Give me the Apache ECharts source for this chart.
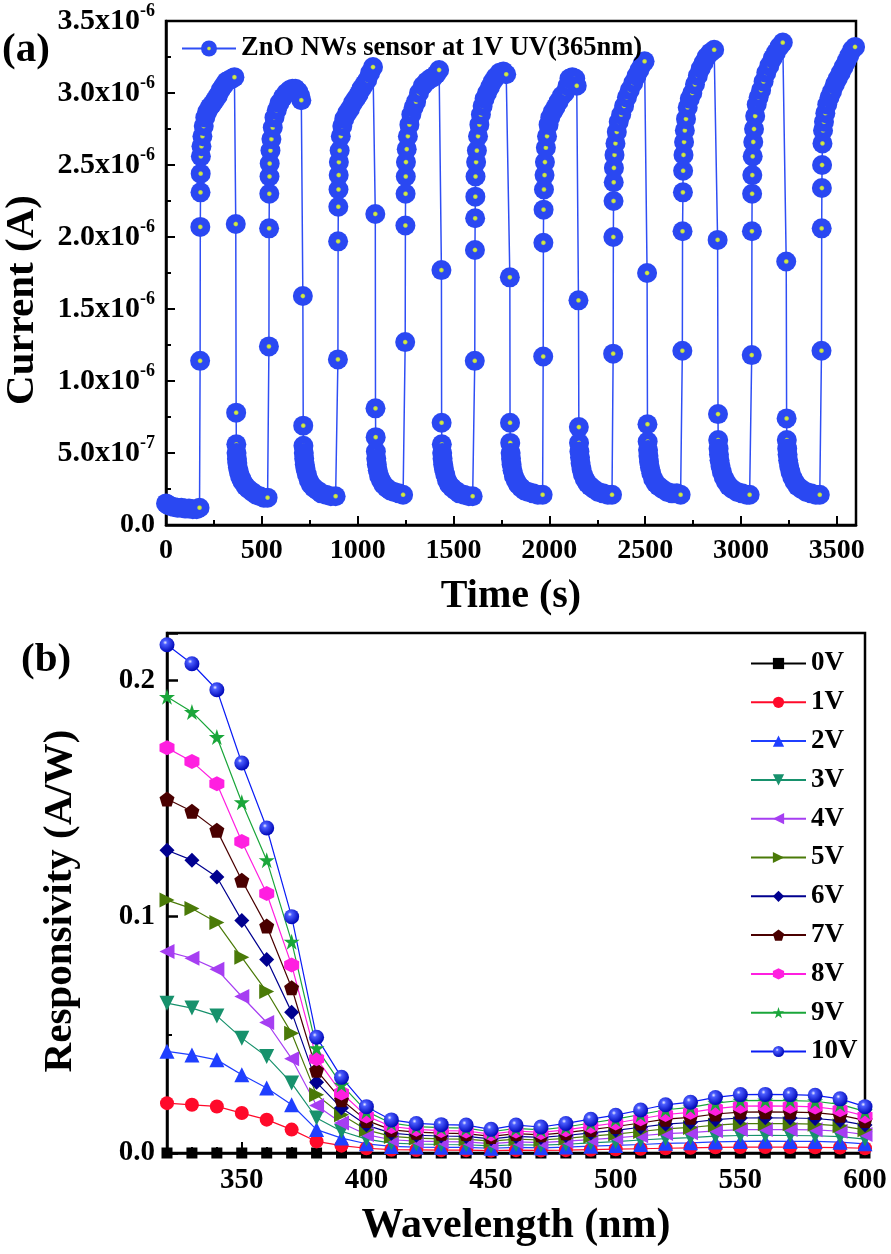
<!DOCTYPE html>
<html lang="en">
<head>
<meta charset="UTF-8">
<title>ZnO NWs UV sensor</title>
<script src="https://cdn.jsdelivr.net/npm/echarts@6/dist/echarts.min.js"></script>
<style>
  html, body { margin: 0; padding: 0; background: #fff; }
  #chart { width: 891px; height: 1254px; }
</style>
</head>
<body>
<div id="chart"></div>
<script>
// ---- (a) current vs time, current in units of 1e-6 A ----
var timeS = [
  0, 10, 25, 40, 60, 80, 100, 120, 140, 160, 175,
  178, 179, 180, 181, 182, 185, 190, 197, 205, 215, 228, 240, 255, 270, 285, 300, 315, 330, 345, 357,
  364, 366, 367, 368, 370, 372, 375, 380, 386, 393, 400, 415, 430, 450, 470, 490, 510, 530,
  537, 538, 539, 540, 541, 545, 550, 557, 566, 578, 592, 610, 627, 645, 660, 675, 690, 700, 706,
  714, 716, 717, 719, 721, 724, 728, 735, 745, 757, 770, 790, 810, 835, 860, 885,
  897, 898, 899, 900, 901, 902, 906, 912, 920, 930, 945, 960, 975, 990, 1005, 1020, 1035, 1050, 1065, 1080,
  1092, 1093, 1094, 1095, 1097, 1100, 1105, 1112, 1122, 1135, 1150, 1170, 1190, 1215, 1237,
  1248, 1249, 1250, 1251, 1252, 1256, 1262, 1270, 1280, 1292, 1305, 1320, 1340, 1360, 1380, 1395, 1410, 1425,
  1437, 1438, 1439, 1441, 1443, 1446, 1450, 1457, 1466, 1478, 1492, 1510, 1530, 1555, 1580, 1600,
  1611, 1612, 1613, 1614, 1615, 1618, 1622, 1628, 1635, 1643, 1652, 1662, 1675, 1690, 1705, 1720, 1740, 1760, 1775,
  1794, 1795, 1796, 1798, 1800, 1803, 1808, 1815, 1825, 1838, 1852, 1870, 1890, 1915, 1940, 1965,
  1968, 1969, 1970, 1972, 1975, 1977, 1982, 1988, 1996, 2005, 2018, 2032, 2048, 2065, 2080, 2095, 2105, 2120, 2135, 2143,
  2152, 2154, 2155, 2157, 2160, 2163, 2168, 2175, 2185, 2198, 2213, 2232, 2255, 2280, 2305, 2327,
  2333, 2334, 2335, 2336, 2337, 2340, 2345, 2352, 2362, 2375, 2390, 2405, 2420, 2438, 2455, 2470, 2485, 2497,
  2510, 2512, 2513, 2515, 2517, 2520, 2525, 2532, 2542, 2555, 2570, 2590, 2615, 2640, 2665, 2685,
  2694, 2695, 2697, 2698, 2700, 2703, 2707, 2713, 2722, 2733, 2746, 2760, 2775, 2790, 2805, 2820, 2840, 2860,
  2878, 2880, 2881, 2883, 2885, 2888, 2893, 2900, 2910, 2922, 2937, 2955, 2980, 3005, 3030, 3045,
  3056, 3057, 3058, 3059, 3061, 3064, 3068, 3074, 3082, 3092, 3105, 3118, 3132, 3148, 3165, 3182, 3200, 3218,
  3236, 3238, 3239, 3241, 3243, 3246, 3251, 3258, 3268, 3280, 3295, 3315, 3340, 3365, 3390, 3411,
  3420, 3421, 3422, 3423, 3425, 3428, 3433, 3440, 3450, 3462, 3475, 3490, 3505, 3520, 3535, 3550, 3565, 3580, 3595
];
var currentUA = [
  0.15, 0.14, 0.13, 0.125, 0.12, 0.12, 0.115, 0.115, 0.11, 0.11, 0.12,
  1.14, 2.07, 2.31, 2.44, 2.56, 2.63, 2.70, 2.77, 2.83, 2.87, 2.90, 2.92, 2.95, 2.98, 3.02, 3.05, 3.08, 3.09, 3.10, 3.11,
  2.09, 0.78, 0.56, 0.50, 0.46, 0.43, 0.40, 0.37, 0.34, 0.32, 0.30, 0.27, 0.25, 0.23, 0.21, 0.20, 0.19, 0.19,
  1.24, 2.06, 2.30, 2.42, 2.51, 2.60, 2.68, 2.76, 2.83, 2.88, 2.93, 2.97, 3.00, 3.02, 3.03, 3.03, 3.01, 2.98, 2.95,
  1.59, 0.69, 0.55, 0.50, 0.46, 0.42, 0.39, 0.35, 0.31, 0.28, 0.26, 0.24, 0.22, 0.21, 0.20, 0.20,
  1.15, 1.97, 2.21, 2.33, 2.43, 2.52, 2.60, 2.70, 2.77, 2.82, 2.86, 2.89, 2.93, 2.96, 2.99, 3.03, 3.06, 3.09, 3.14, 3.18,
  2.16, 0.81, 0.61, 0.51, 0.46, 0.42, 0.38, 0.34, 0.31, 0.28, 0.26, 0.24, 0.23, 0.22, 0.21,
  1.27, 2.08, 2.30, 2.42, 2.52, 2.61, 2.70, 2.78, 2.85, 2.90, 2.94, 3.00, 3.05, 3.08, 3.10, 3.11, 3.13, 3.16,
  1.77, 0.71, 0.56, 0.50, 0.46, 0.42, 0.39, 0.35, 0.31, 0.28, 0.26, 0.24, 0.22, 0.21, 0.20, 0.20,
  1.14, 1.91, 2.13, 2.28, 2.42, 2.52, 2.60, 2.70, 2.78, 2.85, 2.91, 2.96, 3.00, 3.04, 3.08, 3.11, 3.14, 3.15, 3.13,
  1.72, 0.71, 0.57, 0.50, 0.46, 0.42, 0.38, 0.34, 0.31, 0.28, 0.26, 0.24, 0.23, 0.22, 0.21, 0.21,
  1.17, 1.96, 2.19, 2.33, 2.43, 2.52, 2.62, 2.70, 2.78, 2.83, 2.87, 2.90, 2.94, 2.98, 3.00, 3.05, 3.10, 3.11, 3.10, 3.05,
  1.56, 0.68, 0.57, 0.51, 0.47, 0.43, 0.39, 0.35, 0.32, 0.29, 0.27, 0.25, 0.23, 0.22, 0.21, 0.21,
  1.19, 2.00, 2.25, 2.38, 2.48, 2.57, 2.65, 2.73, 2.80, 2.85, 2.91, 2.97, 3.02, 3.07, 3.12, 3.16, 3.20, 3.22,
  1.75, 0.70, 0.58, 0.52, 0.48, 0.44, 0.40, 0.36, 0.32, 0.29, 0.27, 0.25, 0.23, 0.22, 0.22, 0.21,
  1.21, 2.04, 2.31, 2.46, 2.57, 2.66, 2.74, 2.82, 2.90, 2.96, 3.00, 3.06, 3.12, 3.17, 3.21, 3.25, 3.28, 3.30,
  1.98, 0.77, 0.59, 0.53, 0.49, 0.45, 0.41, 0.37, 0.33, 0.30, 0.27, 0.25, 0.23, 0.22, 0.21, 0.21,
  1.18, 2.04, 2.30, 2.43, 2.56, 2.66, 2.75, 2.84, 2.92, 2.97, 3.02, 3.08, 3.14, 3.19, 3.24, 3.28, 3.32, 3.35,
  1.83, 0.74, 0.59, 0.53, 0.49, 0.45, 0.41, 0.37, 0.33, 0.30, 0.27, 0.25, 0.23, 0.22, 0.21, 0.21,
  1.21, 2.06, 2.34, 2.50, 2.65, 2.74, 2.80, 2.86, 2.92, 2.97, 3.01, 3.06, 3.10, 3.14, 3.18, 3.22, 3.26, 3.30, 3.32
];
var sensorName = 'ZnO NWs sensor at 1V UV(365nm)';

// ---- (b) responsivity vs wavelength ----
var wavelength = [320, 330, 340, 350, 360, 370, 380, 390, 400, 410, 420, 430, 440, 450, 460, 470, 480, 490, 500,
  510, 520, 530, 540, 550, 560, 570, 580, 590, 600];
var voltLabels = ['0V', '1V', '2V', '3V', '4V', '5V', '6V', '7V', '8V', '9V', '10V'];
var resp0V = [0, 0, 0, 0, 0, 0, 0, 0, 0, 0, 0, 0, 0, 0, 0, 0, 0, 0, 0, 0, 0, 0, 0, 0, 0, 0, 0, 0, 0];
var resp1V = [0.0211, 0.0204, 0.0197, 0.0169, 0.0141, 0.0099, 0.0049, 0.0031, 0.002, 0.0014, 0.0013, 0.0012, 0.0012,
  0.001, 0.0012, 0.0011, 0.0012, 0.0014, 0.0016, 0.0018, 0.002, 0.0022, 0.0024, 0.0025, 0.0025, 0.0025, 0.0024, 0.0023, 0.002];
var resp2V = [0.043, 0.0415, 0.0394, 0.0331, 0.0275, 0.0204, 0.0099, 0.0063, 0.0039, 0.0028, 0.0025, 0.0024, 0.0024,
  0.002, 0.0024, 0.0022, 0.0025, 0.0029, 0.0032, 0.0036, 0.0041, 0.0043, 0.0047, 0.0049, 0.005, 0.0049, 0.0049, 0.0046, 0.0039];
var resp3V = [0.0634, 0.0613, 0.058, 0.0486, 0.0408, 0.0296, 0.0148, 0.0092, 0.0059, 0.0042, 0.0038, 0.0036, 0.0035,
  0.003, 0.0035, 0.0033, 0.0037, 0.0043, 0.0048, 0.0055, 0.0061, 0.0065, 0.0071, 0.0074, 0.0075, 0.0074, 0.0073, 0.0069, 0.0059];
var resp4V = [0.0852, 0.0824, 0.0777, 0.0662, 0.0552, 0.0399, 0.0201, 0.0127, 0.0078, 0.0056, 0.005, 0.0048, 0.0047,
  0.004, 0.0047, 0.0044, 0.005, 0.0057, 0.0064, 0.0073, 0.0082, 0.0086, 0.0094, 0.0099, 0.0099, 0.0099, 0.0098, 0.0092, 0.0078];
var resp5V = [0.107, 0.1034, 0.0975, 0.0828, 0.0683, 0.0507, 0.0246, 0.0162, 0.0098, 0.007, 0.0063, 0.006, 0.0059,
  0.005, 0.0059, 0.0055, 0.0062, 0.0071, 0.008, 0.0091, 0.0102, 0.0108, 0.0118, 0.0124, 0.0124, 0.0124, 0.0122, 0.0115, 0.0098];
var resp6V = [0.1281, 0.1239, 0.1168, 0.0984, 0.0819, 0.0596, 0.0299, 0.019, 0.0118, 0.0084, 0.0075, 0.0072, 0.007,
  0.006, 0.007, 0.0066, 0.0074, 0.0085, 0.0096, 0.0109, 0.0122, 0.0129, 0.0141, 0.0148, 0.0149, 0.0148, 0.0146, 0.0137, 0.0118];
var resp7V = [0.1498, 0.1446, 0.1366, 0.1154, 0.096, 0.0699, 0.035, 0.0225, 0.0138, 0.0098, 0.0088, 0.0084, 0.0082,
  0.007, 0.0082, 0.0077, 0.0086, 0.0099, 0.0112, 0.0127, 0.0143, 0.0151, 0.0165, 0.0173, 0.0174, 0.0173, 0.0171, 0.016, 0.0138];
var resp8V = [0.1714, 0.1656, 0.1562, 0.1318, 0.1098, 0.0795, 0.0399, 0.0254, 0.0157, 0.0112, 0.01, 0.0095, 0.0093,
  0.008, 0.0093, 0.0087, 0.0098, 0.0113, 0.0127, 0.0145, 0.0163, 0.0172, 0.0188, 0.0198, 0.0199, 0.0198, 0.0195, 0.0183, 0.0157];
var resp9V = [0.193, 0.1866, 0.176, 0.1484, 0.1239, 0.0894, 0.0444, 0.0289, 0.0176, 0.0126, 0.0112, 0.0107, 0.0105,
  0.009, 0.0104, 0.0098, 0.011, 0.0127, 0.0143, 0.0163, 0.0183, 0.0193, 0.0211, 0.0222, 0.0223, 0.0222, 0.0219, 0.0206, 0.0176];
var resp10V = [0.215, 0.207, 0.196, 0.165, 0.1375, 0.100, 0.049, 0.032, 0.0196, 0.014, 0.0125, 0.012, 0.0118,
  0.010, 0.0118, 0.011, 0.0125, 0.0143, 0.016, 0.0182, 0.0204, 0.0215, 0.0235, 0.0247, 0.0248, 0.0247, 0.0244, 0.0229, 0.0196];

var FONT = 'Liberation Serif';
var pentagon = 'path://M50,0 L97.6,34.5 L79.4,90.5 L20.6,90.5 L2.4,34.5 Z';
var hexagon = 'path://M50,0 L93.3,25 L93.3,75 L50,100 L6.7,75 L6.7,25 Z';
var star = 'path://M50,0 L61.2,34.5 L97.6,34.5 L68.2,55.9 L79.4,90.5 L50,69.1 L20.6,90.5 L31.8,55.9 L2.4,34.5 L38.8,34.5 Z';

var respData = [resp0V, resp1V, resp2V, resp3V, resp4V, resp5V, resp6V, resp7V, resp8V, resp9V, resp10V];
var voltColors = ['#000000', '#ff0a2a', '#1f3fff', '#17916c', '#a63ef2', '#4a7a08', '#00008f', '#4a0000', '#ff1fe0', '#1aa63a', '#0a1cf5'];
var voltSymbols = ['rect', 'circle', 'triangle', 'triangle', 'triangle', 'triangle', 'diamond', pentagon, hexagon, star, 'circle'];
var voltRotate = [0, 0, 0, 180, 90, -90, 0, 0, 0, 0, 0];
var voltSizes = [11, 14, 15, 15, 15, 15, 15, 15, 15, 16, 15];

var chart = echarts.init(document.getElementById('chart'));

function axisStyle() {
  return {
    axisLine: { show: true, lineStyle: { color: '#000', width: 2.5 } },
    axisTick: { show: true, inside: true, length: 9, lineStyle: { color: '#000', width: 2 } },
    minorTick: { show: true, splitNumber: 2, length: 5, lineStyle: { color: '#000', width: 2 } },
    splitLine: { show: false },
    minorSplitLine: { show: false }
  };
}

function sciLabel(v) {
  if (Math.abs(v) < 1e-9) return '{z|0.0}';
  if (v < 1) return '{m|' + (v * 10).toFixed(1) + 'x10}{s|-7}';
  return '{m|' + v.toFixed(1) + 'x10}{s|-6}';
}

var labelBase = { color: '#000', fontFamily: FONT, fontWeight: 'bold', fontSize: 28 };
var nameBase = { color: '#000', fontFamily: FONT, fontWeight: 'bold', fontSize: 40 };

var topMarker = new echarts.graphic.RadialGradient(0.5, 0.5, 0.5, [
  { offset: 0, color: '#d8f048' },
  { offset: 0.16, color: '#c8e040' },
  { offset: 0.28, color: '#2a48f2' },
  { offset: 1, color: '#2a48f2' }
]);
var ballMarker = new echarts.graphic.RadialGradient(0.38, 0.35, 0.65, [
  { offset: 0, color: '#f0f0ff' },
  { offset: 0.22, color: '#4a5cff' },
  { offset: 1, color: '#0008b8' }
]);

var bottomSeries = voltLabels.map(function (name, i) {
  var pts = wavelength.map(function (w, k) { return [w, respData[i][k]]; });
  return {
    name: name,
    type: 'line',
    xAxisIndex: 1,
    yAxisIndex: 1,
    data: pts,
    symbol: voltSymbols[i],
    symbolRotate: voltRotate[i],
    symbolSize: voltSizes[i],
    showAllSymbol: true,
    lineStyle: { color: voltColors[i], width: 1.2 },
    itemStyle: { color: i === 10 ? ballMarker : voltColors[i], borderWidth: 0 },
    z: 2,
    animation: false
  };
});

var option = {
  animation: false,
  backgroundColor: '#fff',
  grid: [
    { left: 166, top: 21, width: 690, height: 504, show: true, borderColor: '#000', borderWidth: 2.5, outerBoundsMode: 'none' },
    { left: 167, top: 633, width: 698, height: 520, show: true, borderColor: '#000', borderWidth: 2.5, outerBoundsMode: 'none' }
  ],
  legend: [
    {
      data: [sensorName],
      left: 176, top: 30, z: 20,
      itemWidth: 54, itemHeight: 20,
      textStyle: { color: '#000', fontFamily: FONT, fontWeight: 'bold', fontSize: 26.5 }
    },
    {
      data: voltLabels,
      orient: 'vertical',
      left: 745, top: 645, z: 20,
      itemWidth: 55, itemHeight: 14, itemGap: 11.8,
      textStyle: { color: '#000', fontFamily: FONT, fontWeight: 'bold', fontSize: 27, lineHeight: 26 }
    }
  ],
  xAxis: [
    Object.assign(axisStyle(), {
      type: 'value', gridIndex: 0, min: 0, max: 3600, interval: 500,
      name: 'Time (s)', nameLocation: 'middle', nameGap: 52, nameTextStyle: nameBase, nameMoveOverlap: false,
      axisLabel: Object.assign({ margin: 12, formatter: function (v) { return v % 500 === 0 ? String(v) : ''; } }, labelBase)
    }),
    Object.assign(axisStyle(), {
      type: 'value', gridIndex: 1, min: 320, max: 600, interval: 10,
      minorTick: { show: false },
      axisTick: { show: true, inside: true, length: 6, lineStyle: { color: '#000', width: 2 } },
      name: 'Wavelength (nm)', nameLocation: 'middle', nameGap: 52,
      nameTextStyle: Object.assign({}, nameBase, { fontSize: 42 }), nameMoveOverlap: false,
      axisLabel: Object.assign({ margin: 13, formatter: function (v) { return v % 50 === 0 ? String(v) : ''; } }, labelBase, { fontSize: 29 })
    }),
    {
      type: 'value', gridIndex: 1, min: 320, max: 600, position: 'bottom',
      axisLine: { show: false }, axisLabel: { show: false }, splitLine: { show: false },
      axisTick: { show: true, inside: true, length: 11, customValues: [350, 400, 450, 500, 550, 600], lineStyle: { color: '#000', width: 2 } }
    }
  ],
  yAxis: [
    Object.assign(axisStyle(), {
      type: 'value', gridIndex: 0, min: 0, max: 3.5, interval: 0.5,
      axisLabel: {
        margin: 11,
        formatter: sciLabel,
        rich: {
          z: labelBase,
          m: { color: '#000', fontFamily: FONT, fontWeight: 'bold', fontSize: 30 },
          s: { color: '#000', fontFamily: FONT, fontWeight: 'bold', fontSize: 18, padding: [0, 0, 19, 0] }
        }
      }
    }),
    Object.assign(axisStyle(), {
      type: 'value', gridIndex: 1, min: 0, max: 0.22, interval: 0.1,
      axisTick: { show: true, inside: true, length: 11, lineStyle: { color: '#000', width: 2.5 } },
      axisLabel: Object.assign({
        margin: 12,
        formatter: function (v) {
          var r = Math.round(v * 10);
          return Math.abs(v * 10 - r) < 1e-6 ? (r / 10).toFixed(1) : '';
        }
      }, labelBase, { fontSize: 29 })
    })
  ],
  graphic: [
    { type: 'text', left: 2, top: 30, style: { text: '(a)', fontFamily: FONT, fontWeight: 'bold', fontSize: 41, fill: '#000' } },
    { type: 'text', left: 21, top: 640, style: { text: '(b)', fontFamily: FONT, fontWeight: 'bold', fontSize: 41, fill: '#000' } },
    {
      type: 'text', x: 22, y: 300, rotation: Math.PI / 2,
      style: { text: 'Current (A)', fontFamily: FONT, fontWeight: 'bold', fontSize: 41, fill: '#000', align: 'center', verticalAlign: 'middle' }
    },
    {
      type: 'text', x: 60, y: 901, rotation: Math.PI / 2,
      style: { text: 'Responsivity (A/W)', fontFamily: FONT, fontWeight: 'bold', fontSize: 41, fill: '#000', align: 'center', verticalAlign: 'middle' }
    }
  ],
  series: [
    {
      name: sensorName,
      type: 'line',
      xAxisIndex: 0,
      yAxisIndex: 0,
      data: timeS.map(function (t, i) { return [t, currentUA[i]]; }),
      symbol: 'circle',
      symbolSize: 20,
      showAllSymbol: true,
      lineStyle: { color: '#2f4ef5', width: 1.5 },
      itemStyle: { color: topMarker, borderWidth: 0 },
      animation: false
    }
  ].concat(bottomSeries)
};

chart.setOption(option);
</script>
</body>
</html>
